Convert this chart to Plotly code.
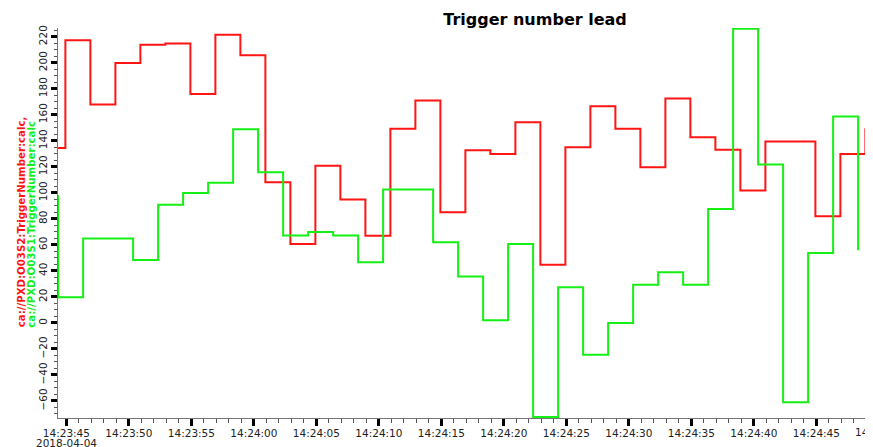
import plotly.graph_objects as go
import pandas as pd

# ---- data ----
red_name = "ca://PXD:O03S2:TriggerNumber:calc"
green_name = "ca://PXD:O03S1:TriggerNumber:calc"
date_label = "2018-04-04"

red_first_time = "2018-04-04 14:23:42.92"
green_first_time = "2018-04-04 14:23:42.34"
sample_period = "2s"

red_values = [134.5, 217.2, 167.8, 199.8, 213.9, 214.7, 176.0, 221.6, 205.7, 108.1,
              60.7, 120.9, 94.8, 67.0, 149.3, 170.9, 85.0, 132.7, 129.9, 154.2,
              44.8, 135.0, 166.5, 149.3, 119.6, 172.6, 142.7, 133.2, 101.7, 139.4,
              139.4, 82.0, 129.9, 149.6]
green_values = [97.3, 19.7, 64.8, 64.8, 48.4, 90.9, 99.9, 107.8, 148.8, 115.8,
                67.1, 69.9, 67.1, 46.6, 102.5, 102.5, 62.0, 35.6, 2.0, 60.7,
                -72.3, 27.4, -24.4, 0.0, 29.4, 38.9, 29.4, 87.6, 226.2, 121.7,
                -61.0, 53.8, 158.6, 55.8]

x_tick_labels = ["14:23:45", "14:23:50", "14:23:55", "14:24:00", "14:24:05", "14:24:10",
                 "14:24:15", "14:24:20", "14:24:25", "14:24:30", "14:24:35", "14:24:40",
                 "14:24:45"]
x_cut_label = "14:24:50"
y_tick_values = [-60, -40, -20, 0, 20, 40, 60, 80, 100, 120, 140, 160, 180, 200, 220]

x_range = ["2018-04-04 14:23:44.33", "2018-04-04 14:24:49.53"]
y_range = [-73.1, 226.7]

# ---- build ----
red_times = pd.date_range(red_first_time, periods=len(red_values), freq=sample_period)
green_times = pd.date_range(green_first_time, periods=len(green_values), freq=sample_period)

tick_vals = [f"{date_label} {t}" for t in x_tick_labels]

RED = "rgb(255,20,20)"
GREEN = "rgb(20,240,20)"
FONT = "DejaVu Sans"
TICKFONT = dict(family=FONT, size=10.5, color="#222")

# the page body adds an 8px offset; the figure is sized to end at the window edge
BODY = 8
W, H = 873 - BODY, 447 - BODY
PLOT_TOP, PLOT_BOTTOM, PLOT_LEFT = 28.3, 418.3, 58

fig = go.Figure()
fig.add_trace(go.Scatter(x=red_times, y=red_values, mode="lines", line=dict(shape="hv", color=RED, width=2),
                         name=red_name))
fig.add_trace(go.Scatter(x=green_times, y=green_values, mode="lines", line=dict(shape="hv", color=GREEN, width=2),
                         name=green_name))

t0 = pd.Timestamp(x_range[0]); t1 = pd.Timestamp(x_range[1])
cut_pos = (pd.Timestamp(f"{date_label} {x_cut_label}") - t0) / (t1 - t0)

fig.update_layout(
    width=W, height=H,
    margin=dict(l=PLOT_LEFT - BODY, r=0, t=PLOT_TOP - BODY, b=H - (PLOT_BOTTOM - BODY), autoexpand=False),
    paper_bgcolor="white", plot_bgcolor="white",
    showlegend=False,
    font=dict(family=FONT, size=10.5, color="#222"),
    title=dict(text="<b>Trigger number lead</b>", x=(535 - BODY) / W, xanchor="center",
               y=1 - (19 - BODY) / H, yanchor="middle",
               font=dict(family=FONT, size=16, color="black")),
    xaxis=dict(type="date", range=x_range, tickmode="array", tickvals=tick_vals, ticktext=x_tick_labels,
               ticks="outside", ticklen=7, tickwidth=2.5, tickcolor="black", ticklabelstandoff=-2,
               showline=True, linecolor="#777", linewidth=1, showgrid=False, zeroline=False,
               minor=dict(tick0=tick_vals[0], dtick=1000, ticks="outside", ticklen=4, tickwidth=1,
                          tickcolor="#555", showgrid=False),
               tickfont=TICKFONT),
    yaxis=dict(range=y_range, tickmode="array", tickvals=y_tick_values, tickangle=-90,
               ticks="outside", ticklen=6, tickwidth=2.5, tickcolor="black",
               showline=True, linecolor="#777", linewidth=1, showgrid=False, zeroline=False,
               minor=dict(tick0=0, dtick=5, ticks="outside", ticklen=3.5, tickwidth=1,
                          tickcolor="#555", showgrid=False),
               tickfont=TICKFONT),
)

# cut-off tick label at the right edge, date under the first tick label
fig.add_annotation(xref="paper", yref="paper", x=cut_pos, y=0, yanchor="top", xanchor="center",
                   yshift=-6, text=x_cut_label, showarrow=False, font=TICKFONT)
fig.add_annotation(xref="x", yref="paper", x=tick_vals[0], y=0, yanchor="top", xanchor="center",
                   yshift=-16.5, text=date_label, showarrow=False, font=TICKFONT)

# two-coloured y axis title, one annotation per line
title_bottom = (PLOT_BOTTOM - 330) / (PLOT_BOTTOM - PLOT_TOP)
for name, color, xc in [(red_name + ",", RED, 21), (green_name, GREEN, 31.5)]:
    fig.add_annotation(xref="paper", yref="paper", x=0, y=title_bottom, xanchor="center", yanchor="bottom",
                       xshift=xc - PLOT_LEFT, textangle=-90, showarrow=False,
                       text=f"<b>{name}</b>", font=dict(family=FONT, size=10.2, color=color))

fig.write_html("out.html")
